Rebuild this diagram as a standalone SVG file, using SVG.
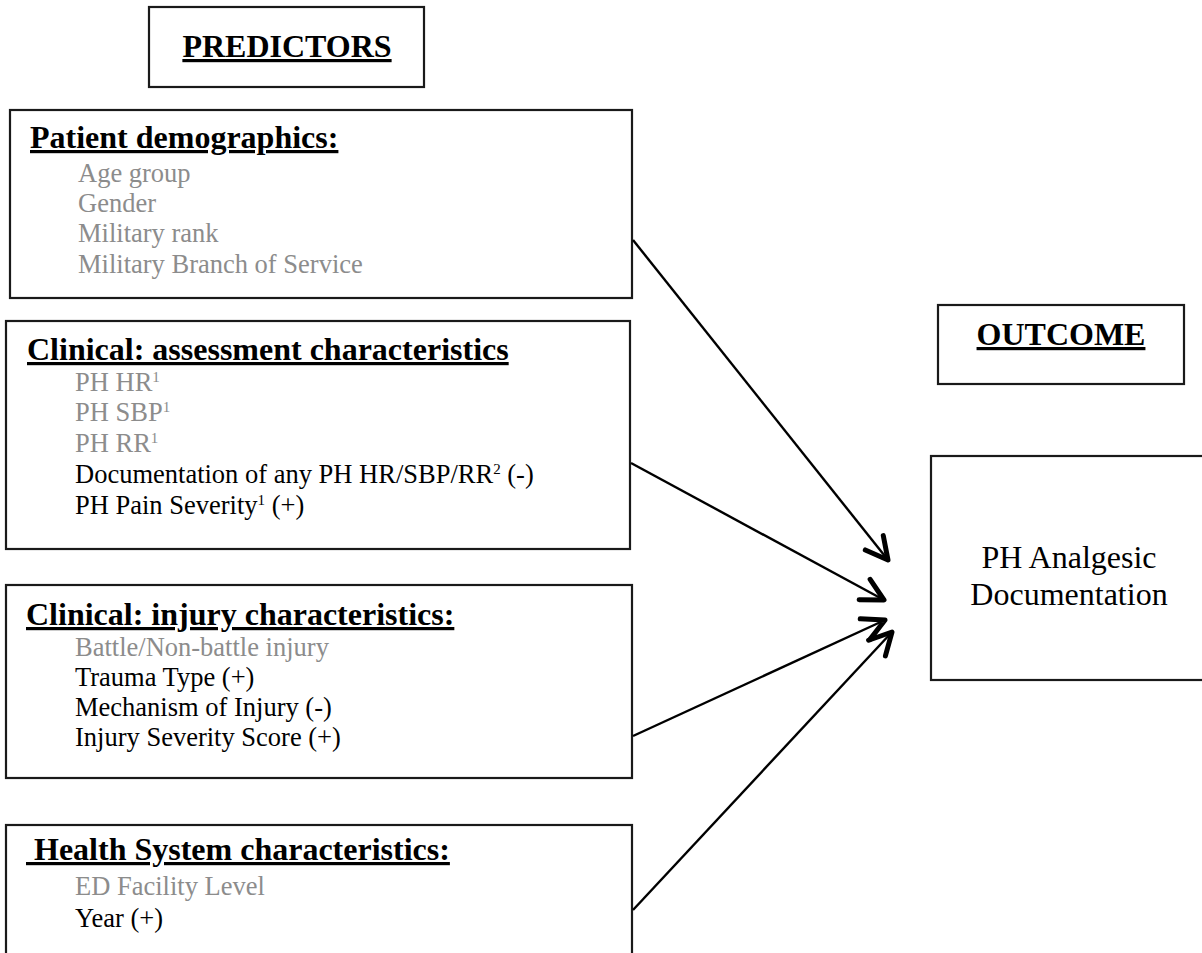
<svg xmlns="http://www.w3.org/2000/svg" width="1202" height="953" viewBox="0 0 1202 953">
  <style>
    .box { fill: #ffffff; stroke: #1a1a1a; stroke-width: 2.2; }
    .title { font-family: "Liberation Serif", "Times New Roman", serif; font-size: 32px; font-weight: bold; fill: #000; text-decoration: underline; }
    .head { font-family: "Liberation Serif", "Times New Roman", serif; font-size: 32px; font-weight: bold; fill: #000; text-decoration: underline; white-space: pre; }
    .item { font-family: "Liberation Serif", "Times New Roman", serif; font-size: 26.5px; fill: #000; }
    .dim { fill: #8c8c8c; }
    .sup { font-size: 15px; }
    .out { font-family: "Liberation Serif", "Times New Roman", serif; font-size: 32px; fill: #000; text-anchor: middle; }
    .edge { stroke: #000; stroke-width: 2.4; fill: none; marker-end: url(#vhead); }
  </style>
  <defs>
    <marker id="vhead" markerUnits="userSpaceOnUse" viewBox="-28 -15 32 30" markerWidth="32" markerHeight="30" refX="0" refY="0" orient="auto">
      <path d="M-22,-11.5 L0,0 L-22,11.5" fill="none" stroke="#000" stroke-width="5" stroke-linecap="round" stroke-linejoin="round"/>
    </marker>
  </defs>

  <rect width="1202" height="953" fill="#ffffff"/>

  <!-- section labels -->
  <g id="predictors-label">
    <rect class="box" x="149" y="7" width="275" height="80"/>
    <text class="title" x="287" y="57" text-anchor="middle">PREDICTORS</text>
  </g>

  <g id="outcome-label">
    <rect class="box" x="938" y="305" width="246" height="79"/>
    <text class="title" x="1061" y="345" text-anchor="middle">OUTCOME</text>
  </g>

  <!-- predictor groups -->
  <g id="patient-demographics">
    <rect class="box" x="10" y="110" width="622" height="188"/>
    <text class="head" x="30" y="148">Patient demographics:</text>
    <text class="item dim" x="78" y="182">Age group</text>
    <text class="item dim" x="78" y="212">Gender</text>
    <text class="item dim" x="78" y="242">Military rank</text>
    <text class="item dim" x="78" y="273">Military Branch of Service</text>
  </g>

  <g id="assessment-characteristics">
    <rect class="box" x="6" y="321" width="624" height="228"/>
    <text class="head" x="27" y="360">Clinical: assessment characteristics</text>
    <text class="item dim" x="75" y="391">PH HR<tspan class="sup" dy="-9">1</tspan></text>
    <text class="item dim" x="75" y="421">PH SBP<tspan class="sup" dy="-9">1</tspan></text>
    <text class="item dim" x="75" y="452">PH RR<tspan class="sup" dy="-9">1</tspan></text>
    <text class="item" x="75" y="483">Documentation of any PH HR/SBP/RR<tspan class="sup" dy="-9">2</tspan><tspan dy="9"> (-)</tspan></text>
    <text class="item" x="75" y="514">PH Pain Severity<tspan class="sup" dy="-9">1</tspan><tspan dy="9"> (+)</tspan></text>
  </g>

  <g id="injury-characteristics">
    <rect class="box" x="6" y="585" width="626" height="193"/>
    <text class="head" x="26" y="625">Clinical: injury characteristics:</text>
    <text class="item dim" x="75" y="656">Battle/Non-battle injury</text>
    <text class="item" x="75" y="686">Trauma Type (+)</text>
    <text class="item" x="75" y="716">Mechanism of Injury (-)</text>
    <text class="item" x="75" y="746">Injury Severity Score (+)</text>
  </g>

  <g id="health-system-characteristics">
    <rect class="box" x="6" y="825" width="626" height="140"/>
    <text class="head" x="26" y="860"> Health System characteristics:</text>
    <text class="item dim" x="75" y="895">ED Facility Level</text>
    <text class="item" x="75" y="927">Year (+)</text>
  </g>

  <!-- outcome -->
  <g id="analgesic-documentation">
    <rect class="box" x="931" y="456" width="285" height="224"/>
    <text class="out" x="1069" y="568">PH Analgesic</text>
    <text class="out" x="1069" y="605">Documentation</text>
  </g>

  <!-- connectors -->
  <g id="connectors">
    <line class="edge" x1="633" y1="240" x2="888" y2="560"/>
    <line class="edge" x1="631" y1="463" x2="884" y2="600"/>
    <line class="edge" x1="633" y1="736" x2="885" y2="620"/>
    <line class="edge" x1="633" y1="910" x2="892" y2="632"/>
  </g>
</svg>
